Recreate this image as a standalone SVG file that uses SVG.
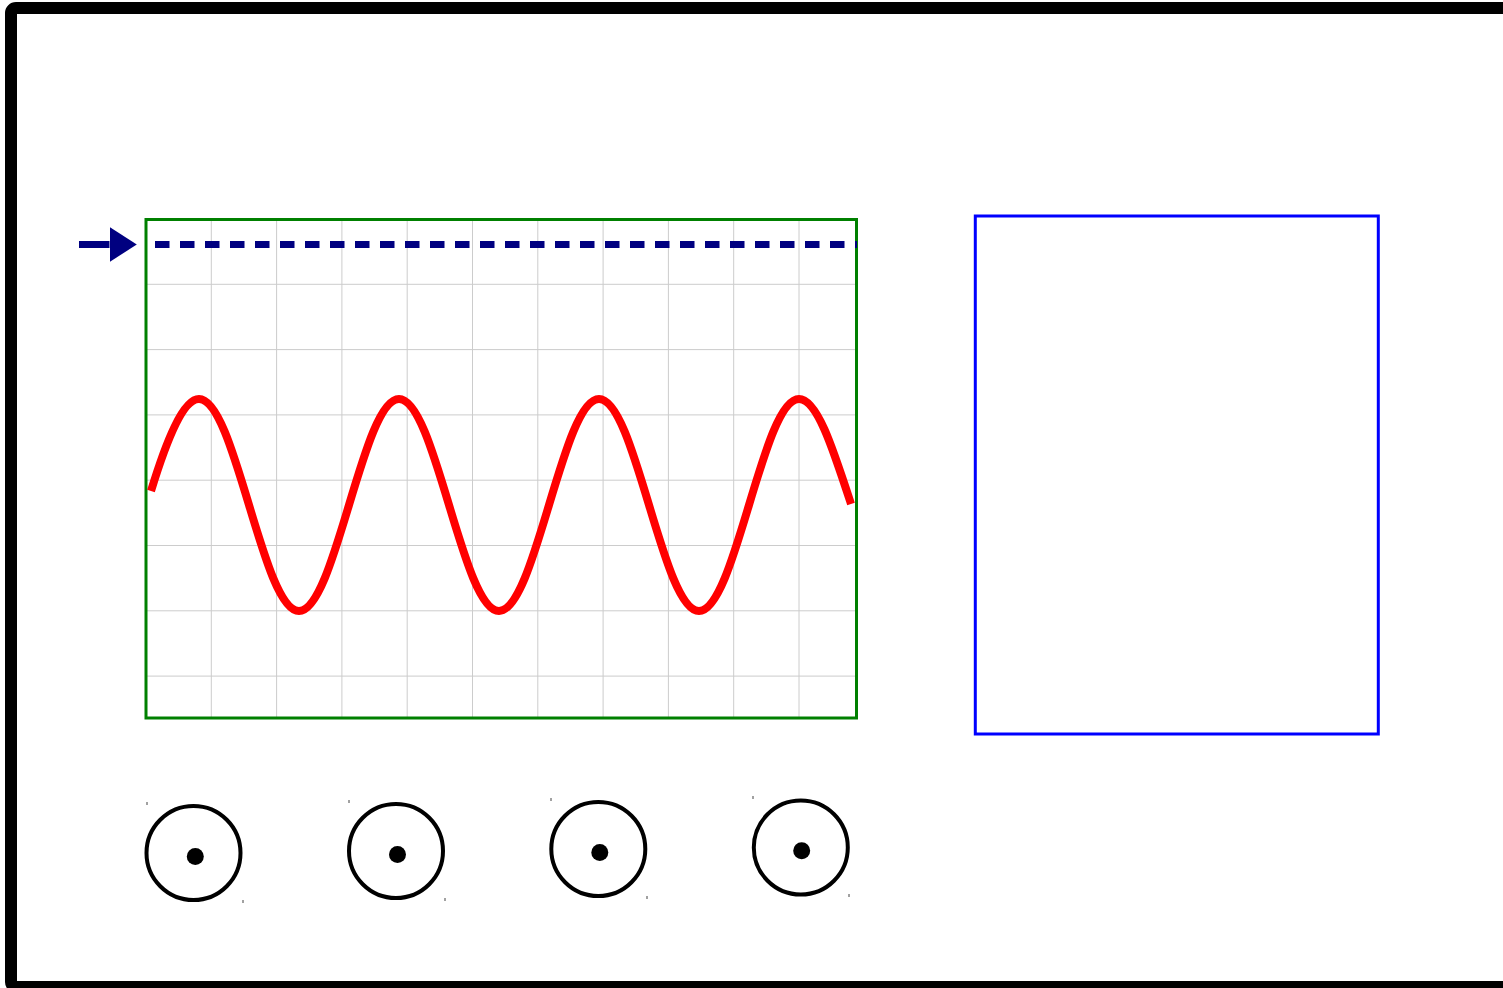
<svg xmlns="http://www.w3.org/2000/svg" width="1503" height="988" viewBox="0 0 1503 988">
<style>
.grid line{stroke:#cccccc;stroke-width:1}
.knob circle.ring{fill:none;stroke:#000;stroke-width:4}
.knob circle.dot{fill:#000}
.tick{stroke:#444;stroke-width:1}
</style>
<defs>
<marker id="ah" markerWidth="4" markerHeight="5" refX="0" refY="2.5" orient="auto" markerUnits="strokeWidth"><path d="M0,0 L3.9,2.5 L0,5 Z" fill="#000080"/></marker>
</defs>
<rect width="1503" height="988" fill="#fff"/>
<g id="frame">
<rect x="11" y="8" width="1560" height="979" rx="5" fill="none" stroke="#000" stroke-width="12"/>
</g>
<g id="screen">
<g class="grid">
<line x1="211.3" y1="219" x2="211.3" y2="718"/>
<line x1="276.6" y1="219" x2="276.6" y2="718"/>
<line x1="341.9" y1="219" x2="341.9" y2="718"/>
<line x1="407.2" y1="219" x2="407.2" y2="718"/>
<line x1="472.5" y1="219" x2="472.5" y2="718"/>
<line x1="537.8" y1="219" x2="537.8" y2="718"/>
<line x1="603.1" y1="219" x2="603.1" y2="718"/>
<line x1="668.4" y1="219" x2="668.4" y2="718"/>
<line x1="733.7" y1="219" x2="733.7" y2="718"/>
<line x1="799" y1="219" x2="799" y2="718"/>
<line x1="146" y1="284.3" x2="857" y2="284.3"/>
<line x1="146" y1="349.6" x2="857" y2="349.6"/>
<line x1="146" y1="414.9" x2="857" y2="414.9"/>
<line x1="146" y1="480.2" x2="857" y2="480.2"/>
<line x1="146" y1="545.5" x2="857" y2="545.5"/>
<line x1="146" y1="610.8" x2="857" y2="610.8"/>
<line x1="146" y1="676.1" x2="857" y2="676.1"/>
</g>
<rect x="146" y="219.5" width="710.5" height="498.5" fill="none" stroke="#008000" stroke-width="3"/>
<path id="wave" d="M151,491 C166,442 183,399 199,399 C217.1,399 232.7,450.7 249,505 C265.3,559.3 280.9,611 299,611 C317.1,611 332.7,559.3 349,505 C365.3,450.7 380.9,399 399,399 C417.1,399 432.7,450.7 449,505 C465.3,559.3 480.9,611 499,611 C517.1,611 532.7,559.3 549,505 C565.3,450.7 580.9,399 599,399 C617.1,399 632.7,450.7 649,505 C665.3,559.3 680.9,611 699,611 C717.1,611 732.7,559.3 749,505 C765.3,450.7 780.9,399 799,399 C817.1,399 832.7,448 851,504" fill="none" stroke="#ff0000" stroke-width="8"/>
</g>
<g id="connectors">
<line x1="155" y1="244.5" x2="857" y2="244.5" stroke="#000080" stroke-width="7" stroke-dasharray="14.5 10.5"/>
<line x1="79" y1="244.5" x2="109.5" y2="244.5" stroke="#000080" stroke-width="7" marker-end="url(#ah)"/>
</g>
<g id="display">
<rect x="975.3" y="216" width="403" height="518" fill="none" stroke="#0000ff" stroke-width="3"/>
</g>
<g id="knob1" class="knob">
<circle class="ring" cx="193.5" cy="853" r="47"/>
<circle class="dot" cx="195.3" cy="856.5" r="8.5"/>
<line class="tick" x1="147" y1="802" x2="147" y2="805"/>
<line class="tick" x1="243" y1="900" x2="243" y2="903"/>
</g>
<g id="knob2" class="knob">
<circle class="ring" cx="396" cy="851" r="47"/>
<circle class="dot" cx="397.5" cy="854.5" r="8.5"/>
<line class="tick" x1="349" y1="800" x2="349" y2="803"/>
<line class="tick" x1="445" y1="898" x2="445" y2="901"/>
</g>
<g id="knob3" class="knob">
<circle class="ring" cx="598.3" cy="849" r="47"/>
<circle class="dot" cx="599.8" cy="852.5" r="8.5"/>
<line class="tick" x1="551" y1="798" x2="551" y2="801"/>
<line class="tick" x1="647" y1="896" x2="647" y2="899"/>
</g>
<g id="knob4" class="knob">
<circle class="ring" cx="800.8" cy="847.5" r="47"/>
<circle class="dot" cx="801.7" cy="850.8" r="8.5"/>
<line class="tick" x1="753" y1="796" x2="753" y2="799"/>
<line class="tick" x1="849" y1="894" x2="849" y2="897"/>
</g>
</svg>
